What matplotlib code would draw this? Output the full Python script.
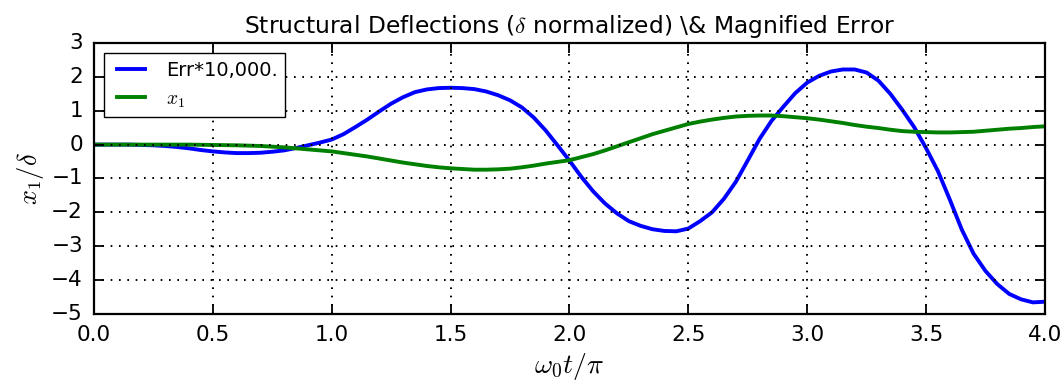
import matplotlib
matplotlib.use("Agg")
import matplotlib.pyplot as plt

plt.style.use("classic")

# time axis (omega_0 t / pi), sampled every 0.05
t = [i * 0.05 for i in range(81)]

# magnified error (Err * 10,000)
err = [
    0.0, 0.0, 0.0, 0.0, -0.01, -0.02, -0.04, -0.07, -0.11, -0.16,
    -0.20, -0.23, -0.25, -0.25, -0.24, -0.21, -0.17, -0.10, -0.02, 0.06,
    0.15, 0.31, 0.52, 0.74, 0.98, 1.21, 1.40, 1.55, 1.63, 1.67,
    1.68, 1.67, 1.64, 1.57, 1.46, 1.31, 1.10, 0.80, 0.42, -0.02,
    -0.47, -0.95, -1.38, -1.74, -2.03, -2.26, -2.40, -2.50, -2.55, -2.56,
    -2.48, -2.26, -2.00, -1.60, -1.10, -0.47, 0.17, 0.70, 1.12, 1.52,
    1.83, 2.03, 2.16, 2.22, 2.22, 2.13, 1.89, 1.50, 1.03, 0.52,
    -0.10, -0.78, -1.62, -2.50, -3.22, -3.73, -4.12, -4.41, -4.57, -4.66,
    -4.64,
]

# normalized deflection x_1 / delta
x1 = [
    0.0, 0.0, 0.0, 0.0, 0.0, 0.0, 0.0, 0.0, 0.0, -0.005,
    -0.01, -0.015, -0.02, -0.03, -0.04, -0.06, -0.08, -0.11, -0.14, -0.17,
    -0.20, -0.25, -0.30, -0.35, -0.41, -0.47, -0.53, -0.58, -0.63, -0.67,
    -0.70, -0.72, -0.74, -0.74, -0.73, -0.71, -0.67, -0.62, -0.56, -0.51,
    -0.46, -0.37, -0.28, -0.17, -0.05, 0.07, 0.19, 0.31, 0.41, 0.51,
    0.61, 0.68, 0.74, 0.79, 0.83, 0.85, 0.86, 0.86, 0.84, 0.81,
    0.78, 0.74, 0.69, 0.64, 0.58, 0.53, 0.49, 0.44, 0.40, 0.38,
    0.37, 0.36, 0.36, 0.37, 0.38, 0.41, 0.44, 0.47, 0.49, 0.52,
    0.54,
]

fig = plt.figure(figsize=(10.64, 3.88), dpi=100, facecolor="white")
ax = fig.add_axes([0.0883, 0.191, 0.8937, 0.698])

ax.plot(t, err, color="b", lw=2.8, label="Err*10,000.")
ax.plot(t, x1, color="g", lw=2.8, label="$x_1$")

ax.set_xlim(0, 4)
ax.set_ylim(-5, 3)
ax.set_xticks([0, 0.5, 1, 1.5, 2, 2.5, 3, 3.5, 4])
ax.set_yticks(range(-5, 4))
ax.tick_params(labelsize=15.5, length=7, width=1.3, pad=8)
for sp in ax.spines.values():
    sp.set_linewidth(1.6)
ax.grid(True, color="black", lw=1.4, ls=(0, (1.2, 4.8)))

ax.set_xlabel(r"$\omega_0 t/\pi$", fontsize=20, labelpad=4)
ax.set_ylabel(r"$x_1/\delta$", fontsize=19, labelpad=4)
ax.set_title(r"Structural Deflections ($\delta$ normalized) \& Magnified Error",
             fontsize=16.8, pad=7)
ax.legend(loc="upper left", fontsize=14, borderaxespad=0.5)

fig.savefig("out.png", dpi=100, facecolor="white")
